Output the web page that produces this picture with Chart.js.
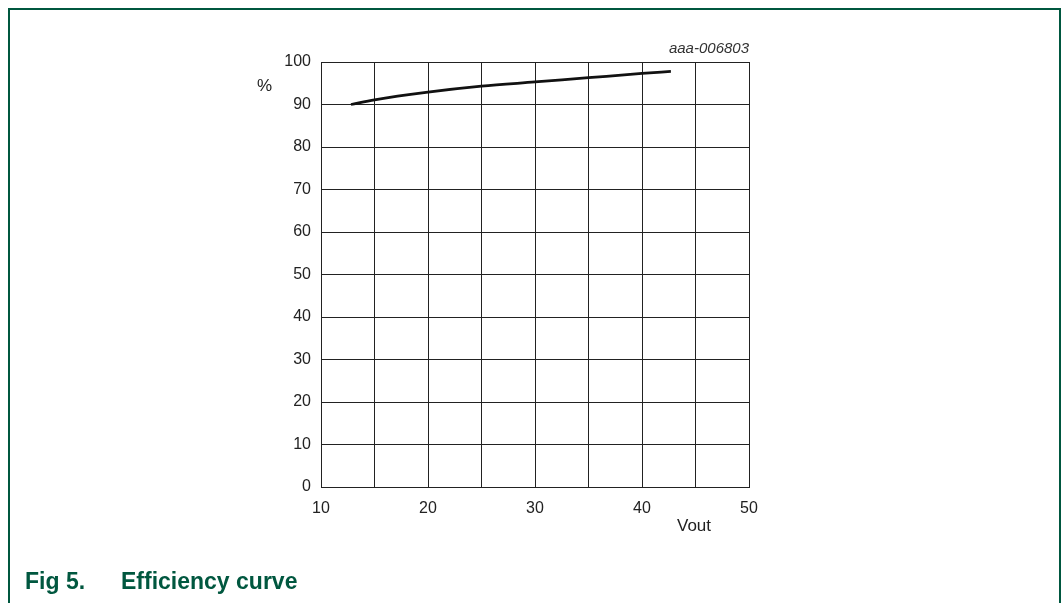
<!DOCTYPE html>
<html>
<head>
<meta charset="utf-8">
<script src="https://cdn.jsdelivr.net/npm/chart.js@4/dist/chart.umd.min.js"></script>
<style>
  html, body { margin: 0; padding: 0; background: #fff; }
  #wrap { position: relative; width: 1064px; height: 603px; overflow: hidden; font-family: "Liberation Sans", Arial, sans-serif; }
  #frame { position: absolute; left: 8px; top: 8px; width: 1053px; height: 700px; border: 2px solid #00573f; box-sizing: border-box; }
  canvas { position: absolute; left: 0; top: 0; }
  .lbl { position: absolute; color: #222; font-size: 17px; }
  #code { position: absolute; right: 315px; top: 39px; font-size: 15px; font-style: italic; color: #333; }
  #caption { position: absolute; left: 25px; top: 568px; font-size: 23px; font-weight: bold; color: #00573f; }
  #caption span { display: inline-block; width: 96px; }
</style>
</head>
<body>
<div id="wrap">
  <div id="frame"></div>
  <canvas id="effChart" width="1064" height="603"></canvas>
  <div class="lbl" style="left:257px; top:76px;">%</div>
  <div class="lbl" style="left:677px; top:516px;">Vout</div>
  <div id="code">aaa-006803</div>
  <div id="caption"><span>Fig 5.</span>Efficiency curve</div>
</div>
<script>
// values
const vout = [12.8, 15, 20, 25, 30, 35, 40, 42.7];
const efficiency = [90, 91.1, 92.9, 94.3, 95.3, 96.3, 97.3, 97.8];
const xTicks = [10, 20, 30, 40, 50];

const ctx = document.getElementById('effChart').getContext('2d');

new Chart(ctx, {
    type: 'line',
    data: {
        datasets: [{
            data: vout.map((v, i) => ({ x: v, y: efficiency[i] })),
            borderColor: '#111',
            borderWidth: 2.8,
            pointRadius: 0,
            tension: 0.4,
            cubicInterpolationMode: 'monotone'
        }]
    },
    options: {
        responsive: false,
        animation: false,
        layout: { padding: { left: 0, top: 62, right: 315, bottom: 76 } },
        plugins: { legend: { display: false }, tooltip: { enabled: false } },
        scales: {
            x: {
                type: 'linear',
                min: 10,
                max: 50,
                afterFit: (s) => { s.height = 40; },
                border: { color: '#222', width: 1 },
                grid: { color: '#222', lineWidth: 1, drawTicks: false },
                ticks: {
                    stepSize: 5,
                    padding: 12,
                    color: '#222',
                    font: { family: '"Liberation Sans", Arial', size: 16 },
                    callback: (v) => xTicks.includes(v) ? String(v) : ''
                }
            },
            y: {
                min: 0,
                max: 100,
                afterFit: (s) => { s.width = 321; },
                border: { color: '#222', width: 1 },
                grid: { color: '#222', lineWidth: 1, drawTicks: false },
                ticks: {
                    stepSize: 10,
                    padding: 10,
                    color: '#222',
                    font: { family: '"Liberation Sans", Arial', size: 16 }
                }
            }
        }
    }
});
</script>
</body>
</html>
